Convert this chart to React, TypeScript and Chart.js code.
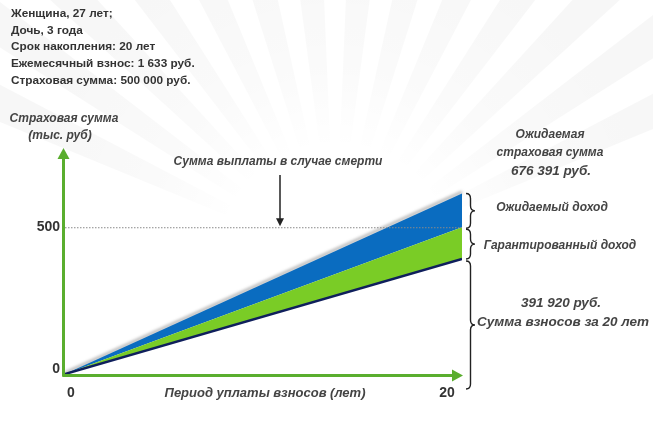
import React, { useEffect, useRef } from "react";
import { Chart, registerables } from "chart.js";

Chart.register(...registerables);

// ---- data ----
const years = [0, 20];
const contributions = [0, 391.92]; // thousand rub
const guaranteed = [0, 500];
const expected = [0, 615];
const yTicks = [0, 500];
const xTicks = [0, 20];

const infoLines = [
  "Женщина, 27 лет;",
  "Дочь, 3 года",
  "Срок накопления: 20 лет",
  "Ежемесячный взнос: 1 633 руб.",
  "Страховая сумма: 500 000 руб.",
];
const yAxisTitle = ["Страховая сумма", "(тыс. руб)"];
const xAxisTitle = "Период уплаты взносов (лет)";
const deathLabel = "Сумма выплаты в случае смерти";
const expectedSumLabel = ["Ожидаемая", "страховая сумма", "676 391 руб."];
const expectedIncomeLabel = "Ожидаемый доход";
const guaranteedIncomeLabel = "Гарантированный доход";
const contributionsLabel = ["391 920 руб.", "Сумма взносов за 20 лет"];

const AXIS_GREEN = "#5aae2e";
const TEXT = "#333333";
const BOLD = "bold 11.8px 'Liberation Sans', Arial, sans-serif";
const ITAL = "italic bold 12px 'Liberation Sans', Arial, sans-serif";
const ITAL_BIG = "italic bold 13.5px 'Liberation Sans', Arial, sans-serif";

function brace(ctx: CanvasRenderingContext2D, x: number, y1: number, y2: number, w: number) {
  const ym = (y1 + y2) / 2;
  const r = Math.min(5, (y2 - y1) / 4);
  const xm = x + w / 2;
  ctx.beginPath();
  ctx.moveTo(x, y1);
  ctx.quadraticCurveTo(xm, y1, xm, y1 + r);
  ctx.lineTo(xm, ym - r);
  ctx.quadraticCurveTo(xm, ym, x + w, ym);
  ctx.quadraticCurveTo(xm, ym, xm, ym + r);
  ctx.lineTo(xm, y2 - r);
  ctx.quadraticCurveTo(xm, y2, x, y2);
  ctx.stroke();
}

const bgPlugin = {
  id: "bgRays",
  beforeDraw(chart: any) {
    const ctx: CanvasRenderingContext2D = chart.ctx;
    ctx.save();
    ctx.fillStyle = "#ffffff";
    ctx.fillRect(0, 0, chart.width, chart.height);
    const cx = 335, cy = 260;
    const g = ctx.createRadialGradient(cx, cy, 110, cx, cy, 320);
    g.addColorStop(0, "rgba(0,0,0,0)");
    g.addColorStop(0.4, "rgba(0,0,0,0.018)");
    g.addColorStop(1, "rgba(0,0,0,0.03)");
    ctx.fillStyle = g;
    for (let a = -155; a <= -25; a += 10) {
      const a1 = ((a - 2.6) * Math.PI) / 180;
      const a2 = ((a + 2.6) * Math.PI) / 180;
      ctx.beginPath();
      ctx.moveTo(cx, cy);
      ctx.lineTo(cx + Math.cos(a1) * 500, cy + Math.sin(a1) * 500);
      ctx.lineTo(cx + Math.cos(a2) * 500, cy + Math.sin(a2) * 500);
      ctx.closePath();
      ctx.fill();
    }
    ctx.restore();
  },
  beforeDatasetsDraw(chart: any) {
    const ctx: CanvasRenderingContext2D = chart.ctx;
    const xs = chart.scales.x, ys = chart.scales.y;
    ctx.save();
    ctx.filter = "blur(1.5px)";
    ctx.strokeStyle = "rgba(60,60,60,0.4)";
    ctx.lineWidth = 2.5;
    ctx.beginPath();
    ctx.moveTo(xs.getPixelForValue(years[0]), ys.getPixelForValue(expected[0]) - 1);
    ctx.lineTo(xs.getPixelForValue(years[1]), ys.getPixelForValue(expected[1]) - 1.5);
    ctx.stroke();
    ctx.restore();
  },
};

const overlayPlugin = {
  id: "overlay",
  afterDraw(chart: any) {
    const ctx: CanvasRenderingContext2D = chart.ctx;
    const xs = chart.scales.x, ys = chart.scales.y;
    const x0 = xs.getPixelForValue(0);
    const xEnd = xs.getPixelForValue(years[years.length - 1]);
    const y0 = ys.getPixelForValue(0);
    const yTop = chart.chartArea.top;
    ctx.save();

    // dotted 500 line
    const y500 = ys.getPixelForValue(guaranteed[1]);
    ctx.strokeStyle = "#8a8a8a";
    ctx.lineWidth = 1;
    ctx.setLineDash([1.5, 1.5]);
    ctx.beginPath();
    ctx.moveTo(x0, y500 + 0.5);
    ctx.lineTo(xEnd, y500 + 0.5);
    ctx.stroke();
    ctx.setLineDash([]);

    // axes
    const ax = x0 - 1.5, ay = y0 + 1.5;
    ctx.strokeStyle = AXIS_GREEN;
    ctx.fillStyle = AXIS_GREEN;
    ctx.lineWidth = 3;
    ctx.beginPath();
    ctx.moveTo(ax, ay + 1);
    ctx.lineTo(ax, yTop + 8);
    ctx.moveTo(ax - 1, ay);
    ctx.lineTo(xEnd - 8, ay);
    ctx.stroke();
    ctx.beginPath();
    ctx.moveTo(ax, yTop);
    ctx.lineTo(ax - 6, yTop + 11);
    ctx.lineTo(ax + 6, yTop + 11);
    ctx.closePath();
    ctx.fill();
    ctx.beginPath();
    ctx.moveTo(xEnd + 1, ay);
    ctx.lineTo(xEnd - 10, ay - 6);
    ctx.lineTo(xEnd - 10, ay + 6);
    ctx.closePath();
    ctx.fill();

    // tick labels
    ctx.fillStyle = TEXT;
    ctx.font = "bold 14px 'Liberation Sans', Arial, sans-serif";
    ctx.textBaseline = "middle";
    ctx.textAlign = "right";
    yTicks.forEach((v) => {
      const py = ys.getPixelForValue(v);
      ctx.fillText(String(v), x0 - 5, v === 0 ? py - 5 : py);
    });
    ctx.textAlign = "center";
    xTicks.forEach((v) => {
      const px = xs.getPixelForValue(v);
      ctx.fillText(String(v), v === 0 ? px + 6 : px - 15, y0 + 19);
    });

    // info block
    ctx.font = BOLD;
    ctx.textAlign = "left";
    ctx.fillStyle = TEXT;
    infoLines.forEach((t, i) => ctx.fillText(t, 11, 14 + i * 16.6));

    // axis titles
    ctx.font = ITAL;
    ctx.fillStyle = "#444";
    ctx.textAlign = "center";
    ctx.fillText(yAxisTitle[0], 64, 119);
    ctx.fillText(yAxisTitle[1], 60, 136);
    ctx.font = "italic bold 13px 'Liberation Sans', Arial, sans-serif";
    ctx.fillText(xAxisTitle, 265, y0 + 19);

    // death label + arrow
    ctx.font = ITAL;
    ctx.fillText(deathLabel, 278, 162);
    ctx.strokeStyle = "#222";
    ctx.fillStyle = "#222";
    ctx.lineWidth = 1.5;
    ctx.beginPath();
    ctx.moveTo(280, 175);
    ctx.lineTo(280, y500 - 6);
    ctx.stroke();
    ctx.beginPath();
    ctx.moveTo(280, y500 - 1);
    ctx.lineTo(276, y500 - 9);
    ctx.lineTo(284, y500 - 9);
    ctx.closePath();
    ctx.fill();

    // braces
    const yExp = ys.getPixelForValue(expected[1]);
    const yCon = ys.getPixelForValue(contributions[1]);
    ctx.strokeStyle = "#222";
    ctx.lineWidth = 1.4;
    const bx = xEnd + 4;
    brace(ctx, bx, yExp, y500 + 1, 9);
    brace(ctx, bx, y500 + 2, yCon, 9);
    brace(ctx, bx, yCon + 2, y0 + 15, 9);

    // right labels
    ctx.fillStyle = "#444";
    ctx.font = ITAL;
    ctx.fillText(expectedSumLabel[0], 550, 135);
    ctx.fillText(expectedSumLabel[1], 550, 153);
    ctx.font = ITAL_BIG;
    ctx.fillText(expectedSumLabel[2], 551, 171);
    ctx.font = ITAL;
    ctx.fillText(expectedIncomeLabel, 552, 208);
    ctx.fillText(guaranteedIncomeLabel, 560, 246);
    ctx.font = ITAL_BIG;
    ctx.fillText(contributionsLabel[0], 561, 303);
    ctx.fillText(contributionsLabel[1], 563, 322);

    ctx.restore();
  },
};

export default function App() {
  const ref = useRef<HTMLCanvasElement | null>(null);
  useEffect(() => {
    document.body.style.margin = "0";
    if (!ref.current) return;
    const pts = (arr: number[]) => years.map((x, i) => ({ x, y: arr[i] }));
    const chart = new Chart(ref.current, {
      type: "line",
      data: {
        datasets: [
          {
            label: "Сумма взносов",
            data: pts(contributions),
            borderColor: "#0f1f5c",
            borderWidth: 2.5,
            pointRadius: 0,
            fill: false,
          },
          {
            label: "Гарантированный доход",
            data: pts(guaranteed),
            borderWidth: 0,
            borderColor: "rgba(0,0,0,0)",
            backgroundColor: "#7acc26",
            pointRadius: 0,
            fill: "-1",
          },
          {
            label: "Ожидаемый доход",
            data: pts(expected),
            borderWidth: 0,
            borderColor: "rgba(0,0,0,0)",
            backgroundColor: "#0a6cc0",
            pointRadius: 0,
            fill: "-1",
          },
        ],
      },
      options: {
        animation: false,
        responsive: true,
        maintainAspectRatio: false,
        layout: { padding: { left: 65, right: 191, top: 148, bottom: 47 } },
        plugins: { legend: { display: false }, tooltip: { enabled: false } },
        elements: { line: { tension: 0 } },
        scales: {
          x: { type: "linear", min: 0, max: 20, display: false },
          y: { type: "linear", min: 0, max: 770, display: false },
        },
      },
      plugins: [bgPlugin, overlayPlugin],
    });
    return () => chart.destroy();
  }, []);
  return (
    <div style={{ width: 653, height: 421, position: "relative" }}>
      <canvas ref={ref} />
    </div>
  );
}
